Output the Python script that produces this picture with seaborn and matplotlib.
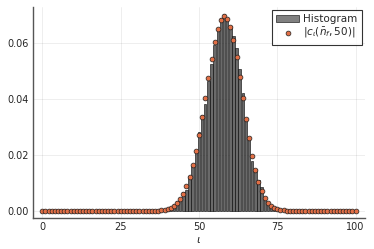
import matplotlib
matplotlib.use("Agg")
import matplotlib.pyplot as plt
import seaborn as sns
import numpy as np

# Histogram bars (bin centers, heights)
hist_iota = list(range(38, 77))
hist_vals = [0.0001, 0.0003, 0.0007, 0.0015, 0.0025, 0.0035, 0.0047, 0.0067, 0.0076,
             0.0124, 0.0160, 0.0217, 0.0282, 0.0342, 0.0381, 0.0463, 0.0525, 0.0590,
             0.0651, 0.0689, 0.0701, 0.0689, 0.0660, 0.0625, 0.0580, 0.0505, 0.0420,
             0.0330, 0.0264, 0.0177, 0.0148, 0.0110, 0.0084, 0.0050, 0.0032, 0.0020,
             0.0012, 0.0006, 0.0003]

# |c_iota(n_f, 50)| points at every integer 0..100
pt_iota = list(range(0, 101))
pt_vals = ([0.0] * 36 +
           [0.0001, 0.0001, 0.0002, 0.0004, 0.0007, 0.0011, 0.0018, 0.0029, 0.0042,
            0.0061, 0.0087, 0.0121, 0.0162, 0.0213, 0.0270, 0.0336, 0.0404, 0.0475,
            0.0543, 0.0603, 0.0650, 0.0682, 0.0695, 0.0685, 0.0656, 0.0611, 0.0549,
            0.0479, 0.0404, 0.0329, 0.0259, 0.0196, 0.0144, 0.0104, 0.0070, 0.0045,
            0.0029, 0.0018, 0.0011, 0.0006, 0.0004, 0.0002, 0.0001, 0.0001] +
           [0.0] * 21)

xticks = [0, 25, 50, 75, 100]
yticks = [0.00, 0.02, 0.04, 0.06]
ytick_labels = ["0.00", "0.02", "0.04", "0.06"]

sns.set_style("white")
plt.rcParams['font.family'] = ['DejaVu Sans']

fig = plt.figure(figsize=(3.74, 2.49), dpi=100)
ax = fig.add_axes([0.088, 0.124, 0.888, 0.848])

sns.histplot(x=hist_iota, weights=hist_vals, discrete=True, shrink=0.8,
             color="#6a6a6a", edgecolor="black", linewidth=0.4, alpha=1.0,
             ax=ax, label="Histogram")
sns.scatterplot(x=pt_iota, y=pt_vals, color="#e26f46", edgecolor="#222222",
                linewidth=0.5, s=12, ax=ax, zorder=3,
                label=r"$|c_\iota(\bar{n}_f, 50)|$")

ax.set_xlim(-3, 103)
ax.set_ylim(-0.0026, 0.0727)
ax.set_xticks(xticks)
ax.set_xticklabels([str(t) for t in xticks])
ax.set_yticks(yticks)
ax.set_yticklabels(ytick_labels)
ax.grid(True, color="#000000", alpha=0.08, linewidth=0.6)
ax.set_axisbelow(True)
for s in ["top", "right"]:
    ax.spines[s].set_visible(False)
for s in ["left", "bottom"]:
    ax.spines[s].set_color("#555555")
    ax.spines[s].set_linewidth(1.0)
ax.tick_params(direction="in", length=3, width=0.6, color="#555555",
               labelsize=7, pad=3)
ax.set_ylabel("")
ax.set_xlabel(r"$\iota$", fontsize=8, labelpad=2)

handles, labels = ax.get_legend_handles_labels()
order = [labels.index("Histogram")] + [i for i, l in enumerate(labels) if l != "Histogram"]
leg = ax.legend([handles[i] for i in order], [labels[i] for i in order],
                loc="upper right", fontsize=7.5, frameon=True, fancybox=False,
                borderpad=0.4, handlelength=2.2, handletextpad=0.4,
                labelspacing=0.2, borderaxespad=0.3)
leg.get_frame().set_edgecolor("black")
leg.get_frame().set_linewidth(0.8)
leg.legend_handles[0].set_facecolor("#808080")

fig.savefig("out.png", dpi=100)
